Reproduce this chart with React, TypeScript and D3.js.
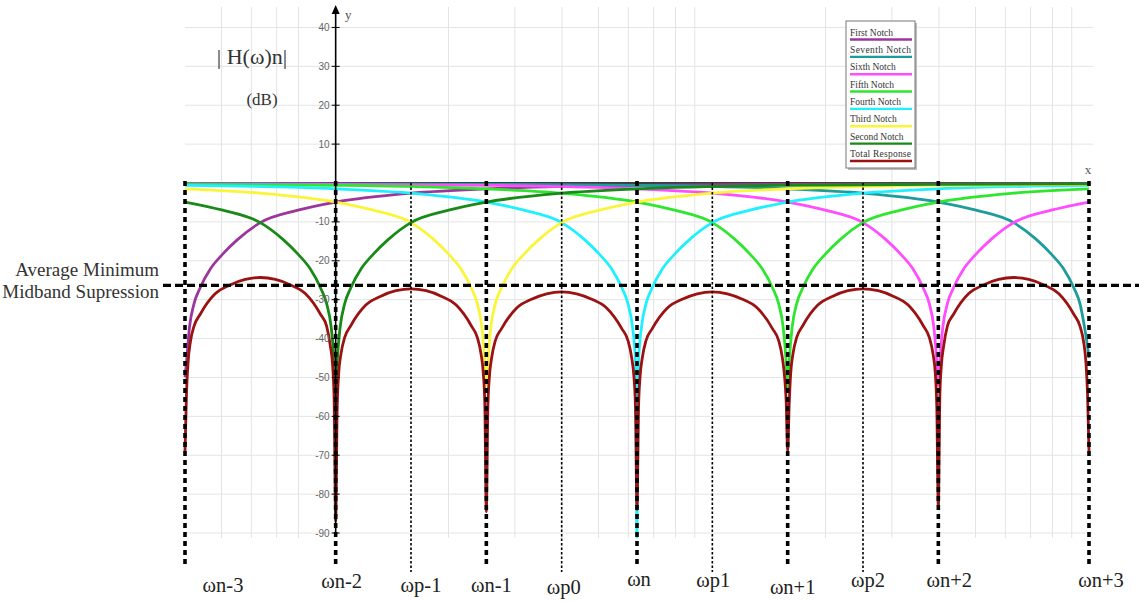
import React from "react";
import * as d3 from "d3";

const W = 1139;
const H = 602;

// ---------- data ----------
const yTickValues = [40, 30, 20, 10, -10, -20, -30, -40, -50, -60, -70, -80, -90];
const gridDb = [40, 30, 20, 10, 0, -10, -20, -30, -40, -50, -60, -70, -80, -90];
const gridFreq = [0.5, 0.6, 0.7, 0.8, 2, 3, 4, 5, 6, 7, 8, 9, 20, 30, 40, 50, 60, 70, 80, 90];

const notchPos = [-3, -2, -1, 0, 1, 2, 3];
const notchLabels = ["ωn-3", "ωn-2", "ωn-1", "ωn", "ωn+1", "ωn+2", "ωn+3"];
const midPos = [-1.5, -0.5, 0.5, 1.5];
const midLabels = ["ωp-1", "ωp0", "ωp1", "ωp2"];
const avgMinSuppression = -26.3;

const firstNotch: [number, number][] = [
  [-3, -50], [-2.99, -46], [-2.97, -37], [-2.94, -31], [-2.9, -27], [-2.83, -22], [-2.75, -18.3],
  [-2.65, -14.5], [-2.5, -10.2], [-2.25, -7], [-2, -4.9], [-1.5, -2.6], [-1, -1.5], [0, -0.6],
  [1, -0.35], [2, -0.2], [3, -0.15],
];
const secondNotch: [number, number][] = [
  [-3, -4.9], [-2.75, -7], [-2.5, -10.2], [-2.35, -14.5], [-2.25, -18.3], [-2.17, -22], [-2.1, -27],
  [-2.06, -31], [-2.03, -37], [-2.01, -46], [-2, -55], [-1.99, -46], [-1.97, -37], [-1.94, -31],
  [-1.9, -27], [-1.83, -22], [-1.75, -18.3], [-1.65, -14.5], [-1.5, -10.2], [-1.25, -7], [-1, -4.9],
  [-0.5, -2.6], [0, -1.5], [1, -0.6], [2, -0.35], [3, -0.2],
];
const thirdNotch: [number, number][] = [
  [-3, -1.5], [-2.5, -2.6], [-2, -4.9], [-1.75, -7], [-1.5, -10.2], [-1.35, -14.5], [-1.25, -18.3],
  [-1.17, -22], [-1.1, -27], [-1.06, -31], [-1.03, -37], [-1.01, -46], [-1, -52], [-0.99, -46],
  [-0.97, -37], [-0.94, -31], [-0.9, -27], [-0.83, -22], [-0.75, -18.3], [-0.65, -14.5], [-0.5, -10.2],
  [-0.25, -7], [0, -4.9], [0.5, -2.6], [1, -1.5], [2, -0.6], [3, -0.35],
];
const fourthNotch: [number, number][] = [
  [-3, -0.6], [-2, -1.5], [-1.5, -2.6], [-1, -4.9], [-0.75, -7], [-0.5, -10.2], [-0.35, -14.5],
  [-0.25, -18.3], [-0.17, -22], [-0.1, -27], [-0.06, -31], [-0.03, -37], [-0.01, -46], [0, -91],
  [0.01, -46], [0.03, -37], [0.06, -31], [0.1, -27], [0.17, -22], [0.25, -18.3], [0.35, -14.5],
  [0.5, -10.2], [0.75, -7], [1, -4.9], [1.5, -2.6], [2, -1.5], [3, -0.6],
];
const fifthNotch: [number, number][] = [
  [-3, -0.35], [-2, -0.6], [-1, -1.5], [-0.5, -2.6], [0, -4.9], [0.25, -7], [0.5, -10.2], [0.65, -14.5],
  [0.75, -18.3], [0.83, -22], [0.9, -27], [0.94, -31], [0.97, -37], [0.99, -46], [1, -53], [1.01, -46],
  [1.03, -37], [1.06, -31], [1.1, -27], [1.17, -22], [1.25, -18.3], [1.35, -14.5], [1.5, -10.2],
  [1.75, -7], [2, -4.9], [2.5, -2.6], [3, -1.5],
];
const sixthNotch: [number, number][] = [
  [-3, -0.2], [-2, -0.35], [-1, -0.6], [0, -1.5], [0.5, -2.6], [1, -4.9], [1.25, -7], [1.5, -10.2],
  [1.65, -14.5], [1.75, -18.3], [1.83, -22], [1.9, -27], [1.94, -31], [1.97, -37], [1.99, -46], [2, -52],
  [2.01, -46], [2.03, -37], [2.06, -31], [2.1, -27], [2.17, -22], [2.25, -18.3], [2.35, -14.5],
  [2.5, -10.2], [2.75, -7], [3, -4.9],
];
const seventhNotch: [number, number][] = [
  [-3, -0.15], [-2, -0.2], [-1, -0.35], [0, -0.6], [1, -1.5], [1.5, -2.6], [2, -4.9], [2.25, -7],
  [2.5, -10.2], [2.65, -14.5], [2.75, -18.3], [2.83, -22], [2.9, -27], [2.94, -31], [2.97, -37],
  [2.99, -42], [3, -45],
];
const totalResponse: [number, number][] = [
  [-3, -69], [-2.99, -54], [-2.98, -46.3], [-2.965, -41], [-2.94, -36.8], [-2.9, -33.8], [-2.8, -28.5],
  [-2.7, -26.2], [-2.6, -24.8], [-2.5, -24.3], [-2.4, -24.8], [-2.3, -26.2], [-2.2, -28.5], [-2.1, -33.8],
  [-2.06, -36.8], [-2.035, -42], [-2.02, -47], [-2.01, -56], [-2, -87],
  [-1.99, -58], [-1.98, -49], [-1.965, -44], [-1.94, -39.7], [-1.9, -36.7], [-1.8, -31.4], [-1.7, -29.1],
  [-1.6, -27.7], [-1.5, -27.2], [-1.4, -27.7], [-1.3, -29.1], [-1.2, -31.4], [-1.1, -36.7], [-1.06, -39.7],
  [-1.035, -44], [-1.02, -49], [-1.01, -57], [-1, -84.5],
  [-0.99, -58], [-0.98, -50], [-0.965, -45], [-0.94, -40.5], [-0.9, -37.5], [-0.8, -32.2], [-0.7, -29.9],
  [-0.6, -28.5], [-0.5, -28], [-0.4, -28.5], [-0.3, -29.9], [-0.2, -32.2], [-0.1, -37.5], [-0.06, -40.5],
  [-0.035, -45], [-0.02, -50], [-0.01, -58], [0, -84],
  [0.01, -58], [0.02, -50], [0.035, -45], [0.06, -40.5], [0.1, -37.5], [0.2, -32.2], [0.3, -29.9],
  [0.4, -28.5], [0.5, -28], [0.6, -28.5], [0.7, -29.9], [0.8, -32.2], [0.9, -37.5], [0.94, -40.5],
  [0.965, -45], [0.98, -50], [0.99, -56], [1, -69],
  [1.01, -57], [1.02, -49], [1.035, -44], [1.06, -39.7], [1.1, -36.7], [1.2, -31.4], [1.3, -29.1],
  [1.4, -27.7], [1.5, -27.2], [1.6, -27.7], [1.7, -29.1], [1.8, -31.4], [1.9, -36.7], [1.94, -39.7],
  [1.965, -44], [1.98, -49], [1.99, -58], [2, -83.5],
  [2.01, -55], [2.02, -47], [2.035, -42], [2.06, -36.8], [2.1, -33.8], [2.2, -28.5], [2.3, -26.2],
  [2.4, -24.8], [2.5, -24.3], [2.6, -24.8], [2.7, -26.2], [2.8, -28.5], [2.9, -33.8], [2.94, -36.8],
  [2.965, -41], [2.98, -46.3], [2.99, -54], [3, -69],
];

const seriesNames = [
  "First Notch", "Seventh Notch", "Sixth Notch", "Fifth Notch",
  "Fourth Notch", "Third Notch", "Second Notch", "Total Response",
];
const seriesData = [
  firstNotch, seventhNotch, sixthNotch, fifthNotch, fourthNotch, thirdNotch, secondNotch, totalResponse,
];

// ---------- styles / layout ----------
const seriesColors = [
  "#9b379b", "#1e9c9c", "#ff4dff", "#2fe62f", "#1ff0ff", "#fbf53a", "#178a17", "#9a1212",
];
const notchLabelDx = [38, 6, 5, 2, 5, 11, 12];
const notchLabelY = [592, 588, 592, 586, 594, 587, 587];
const midLabelDx = [10, 2, 1, 5];
const midLabelY = [592, 594, 587, 587];

export default function App() {
  const x = d3.scaleLinear().domain([-3, 3]).range([185, 1089]);
  const xf = d3.scaleLog().domain([0.4, 100]).range([185, 1089]);
  const y = d3.scaleLinear().domain([0, -90]).range([183, 533]);

  const line = d3
    .line<[number, number]>()
    .x((d) => x(d[0]))
    .y((d) => y(d[1]))
    .curve(d3.curveMonotoneX);

  const axisX = x(-2);
  const serif = "'Liberation Serif', 'Times New Roman', serif";

  return (
    <div style={{ position: "absolute", left: 0, top: 0 }}>
      <svg width={W} height={H} style={{ display: "block", background: "#fff" }}>
        {/* grid */}
        <g stroke="#e4e4e4" strokeWidth={1}>
          {gridDb.map((v) => (
            <line key={"h" + v} x1={185} x2={1093} y1={y(v)} y2={y(v)} />
          ))}
          {gridFreq.map((f) => (
            <line key={"v" + f} x1={xf(f)} x2={xf(f)} y1={7} y2={538} />
          ))}
        </g>

        {/* x axis line at 0 dB */}
        <line x1={185} x2={1089} y1={y(0)} y2={y(0)} stroke="#000" strokeWidth={1.6} />

        {/* curves */}
        {seriesData.map((d, i) => (
          <path
            key={seriesNames[i]}
            d={line(d) || ""}
            fill="none"
            stroke={seriesColors[i]}
            strokeWidth={2.8}
            strokeLinejoin="round"
          />
        ))}

        {/* vertical dashed lines at notches */}
        {notchPos.map((p) => (
          <line
            key={"n" + p}
            x1={x(p)}
            x2={x(p)}
            y1={y(0) - 2}
            y2={566}
            stroke="#000"
            strokeWidth={3.6}
            strokeDasharray="5 4"
          />
        ))}
        {midPos.map((p) => (
          <line
            key={"m" + p}
            x1={x(p)}
            x2={x(p)}
            y1={y(0)}
            y2={572}
            stroke="#000"
            strokeWidth={1.6}
            strokeDasharray="2.5 2"
          />
        ))}
        {/* average minimum midband suppression */}
        <line
          x1={163}
          x2={W}
          y1={y(avgMinSuppression)}
          y2={y(avgMinSuppression)}
          stroke="#000"
          strokeWidth={3.2}
          strokeDasharray="8 4"
        />

        {/* y axis */}
        <line x1={axisX} x2={axisX} y1={12} y2={y(-90) + 3} stroke="#000" strokeWidth={1.6} />
        <path d={`M${axisX},5 L${axisX - 4},14 L${axisX + 4},14 Z`} fill="#000" />
        {yTickValues.map((v) => (
          <g key={"t" + v}>
            <line x1={axisX - 4} x2={axisX + 4} y1={y(v)} y2={y(v)} stroke="#000" strokeWidth={1} />
            <text
              x={axisX - 6}
              y={y(v) + 3.5}
              textAnchor="end"
              fontFamily="'Liberation Sans', Arial, sans-serif"
              fontSize={10}
              fill="#666"
            >
              {v}
            </text>
          </g>
        ))}
        <text x={345} y={19} fontFamily={serif} fontSize={13} fill="#555">y</text>
        <text x={1088} y={174} textAnchor="middle" fontFamily={serif} fontSize={13} fill="#555">x</text>

        {/* titles */}
        <text x={252} y={64} textAnchor="middle" fontFamily={serif} fontSize={22} fill="#333">
          | H(ω)n|
        </text>
        <text x={262} y={105} textAnchor="middle" fontFamily={serif} fontSize={17} fill="#333">
          (dB)
        </text>
        <text x={159} y={276} textAnchor="end" fontFamily={serif} fontSize={19} fill="#333">
          Average Minimum
        </text>
        <text x={159} y={298} textAnchor="end" fontFamily={serif} fontSize={19} fill="#333">
          Midband Supression
        </text>

        {/* bottom labels */}
        {notchLabels.map((l, i) => (
          <text
            key={l}
            x={x(notchPos[i]) + notchLabelDx[i]}
            y={notchLabelY[i]}
            textAnchor="middle"
            fontFamily={serif}
            fontSize={20.5}
            fill="#222"
          >
            {l}
          </text>
        ))}
        {midLabels.map((l, i) => (
          <text
            key={l}
            x={x(midPos[i]) + midLabelDx[i]}
            y={midLabelY[i]}
            textAnchor="middle"
            fontFamily={serif}
            fontSize={20.5}
            fill="#222"
          >
            {l}
          </text>
        ))}

        {/* legend */}
        <g>
          <rect x={848} y={23} width={69} height={147} fill="#bbb" />
          <rect x={846} y={21} width={69} height={147} fill="#fff" stroke="#777" strokeWidth={1} />
          {seriesNames.map((n, i) => (
            <g key={"lg" + n}>
              <text
                x={850}
                y={35.5 + i * 17.35}
                fontFamily={serif}
                fontSize={9.5}
                fill="#333"
                textLength={n.length > 12 ? 61 : undefined}
              >
                {n}
              </text>
              <line
                x1={850}
                x2={912}
                y1={39.5 + i * 17.35}
                y2={39.5 + i * 17.35}
                stroke={seriesColors[i]}
                strokeWidth={2.4}
              />
            </g>
          ))}
        </g>
      </svg>
    </div>
  );
}
